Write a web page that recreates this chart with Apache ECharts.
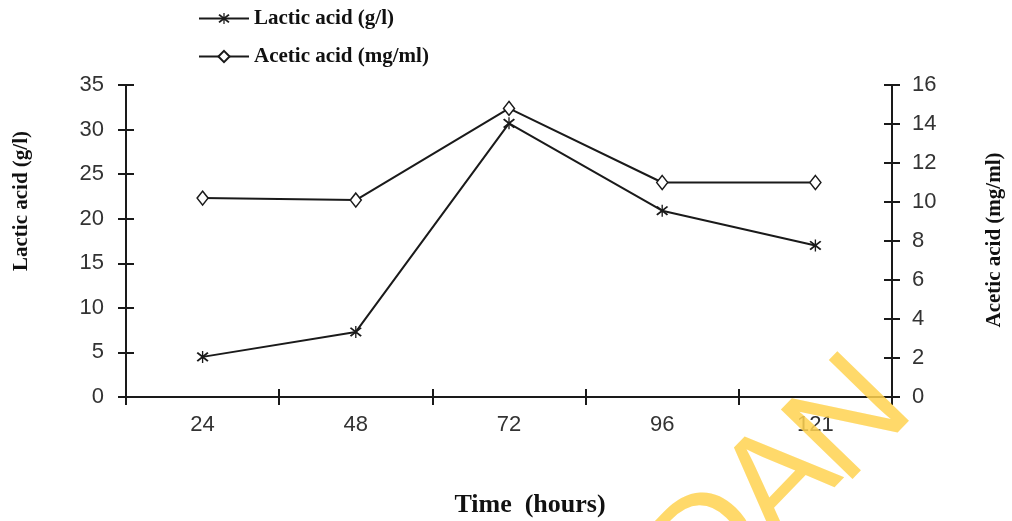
<!DOCTYPE html>
<html>
<head>
<meta charset="utf-8">
<script src="https://cdn.jsdelivr.net/npm/echarts@6/dist/echarts.min.js"></script>
<style>
html,body{margin:0;padding:0;background:#fff;}
#c{width:1012px;height:521px;}
</style>
</head>
<body>
<div id="c"></div>
<script>
// ---- data ----
const categories = ['24', '48', '72', '96', '121'];
const lacticAcid = [4.5, 7.3, 30.7, 20.9, 17.0];   // g/l (left axis)
const aceticAcid = [10.2, 10.1, 14.8, 11.0, 11.0]; // mg/ml (right axis)
const seriesNames = ['Lactic acid (g/l)', 'Acetic acid (mg/ml)'];
const leftTicks = {min: 0, max: 35, interval: 5};
const rightTicks = {min: 0, max: 16, interval: 2};

const SERIF = '"Liberation Serif", "DejaVu Serif", serif';
const SANS = '"Liberation Sans", Arial, sans-serif';
const INK = '#1a1a1a';
const asterisk = 'path://M9,0L11,0L11,20L9,20Z M1,4L3,2L19,16L17,18Z M17,2L19,4L3,18L1,16Z';

const chart = echarts.init(document.getElementById('c'), null, {renderer: 'canvas'});

const axisLine = {show: true, lineStyle: {color: INK, width: 2}};
const tickOut = {show: true, inside: false, length: 8, lineStyle: {color: INK, width: 2}};
const tickIn = {show: true, inside: true, length: 8, lineStyle: {color: INK, width: 2}};
const labelStyle = {color: '#333', fontFamily: SANS, fontSize: 22};

// watermark letters (decorative)
const wmLetters = [
  {ch: 'D', x: 712, y: 548},
  {ch: 'A', x: 782, y: 484},
  {ch: 'N', x: 852, y: 422}
];
const wmGraphics = wmLetters.map(function (l) {
  return {type: 'text', x: l.x, y: l.y, rotation: 0.8, silent: true, z: 100,
    style: {x: 0, y: 0, text: l.ch, align: 'center', verticalAlign: 'middle',
      font: '145px ' + SANS, fill: 'rgba(255,210,80,0.85)'}};
});

chart.setOption({
  animation: false,
  backgroundColor: '#fff',
  grid: {left: 126, right: 120, top: 85, bottom: 124, containLabel: false},
  legend: {
    orient: 'vertical', left: 198, top: 8, padding: 0,
    itemWidth: 50, itemHeight: 14, itemGap: 17,
    textStyle: {fontFamily: SERIF, fontWeight: 'bold', fontSize: 21, color: '#111'},
    data: seriesNames
  },
  xAxis: [
    {type: 'category', data: categories, boundaryGap: true, position: 'bottom',
     axisLine: axisLine, axisTick: tickOut,
     axisLabel: Object.assign({margin: 17}, labelStyle), splitLine: {show: false}},
    {type: 'category', data: categories, boundaryGap: true, position: 'bottom',
     axisLine: {show: false}, axisTick: tickIn, axisLabel: {show: false}, splitLine: {show: false}}
  ],
  yAxis: [
    Object.assign({type: 'value', position: 'left', axisLine: axisLine, axisTick: tickOut,
     axisLabel: Object.assign({margin: 22}, labelStyle), splitLine: {show: false}}, leftTicks),
    Object.assign({type: 'value', position: 'right', axisLine: axisLine, axisTick: tickOut,
     axisLabel: Object.assign({margin: 20}, labelStyle), splitLine: {show: false}}, rightTicks),
    Object.assign({type: 'value', position: 'left', axisLine: {show: false}, axisTick: tickIn,
     axisLabel: {show: false}, splitLine: {show: false}}, leftTicks),
    Object.assign({type: 'value', position: 'right', axisLine: {show: false}, axisTick: tickIn,
     axisLabel: {show: false}, splitLine: {show: false}}, rightTicks)
  ],
  series: [
    {name: seriesNames[0], type: 'line', data: lacticAcid, yAxisIndex: 0,
     symbol: asterisk, symbolSize: 12, showAllSymbol: true,
     lineStyle: {color: INK, width: 2}, itemStyle: {color: INK, borderColor: INK, borderWidth: 0}, z: 3},
    {name: seriesNames[1], type: 'line', data: aceticAcid, yAxisIndex: 1,
     symbol: 'diamond', symbolSize: [11, 14], showAllSymbol: true,
     lineStyle: {color: INK, width: 2}, itemStyle: {color: '#fff', borderColor: INK, borderWidth: 1.5}, z: 3}
  ],
  graphic: [
    {type: 'text', x: 530, y: 505, silent: true,
     style: {x: 0, y: 0, text: 'Time  (hours)', align: 'center', verticalAlign: 'middle',
       font: 'bold 26px ' + SERIF, fill: '#111'}},
    {type: 'text', x: 22, y: 201, rotation: Math.PI / 2, silent: true,
     style: {x: 0, y: 0, text: 'Lactic acid (g/l)', align: 'center', verticalAlign: 'middle',
       font: 'bold 21px ' + SERIF, fill: '#111'}},
    {type: 'text', x: 995, y: 240, rotation: Math.PI / 2, silent: true,
     style: {x: 0, y: 0, text: 'Acetic acid (mg/ml)', align: 'center', verticalAlign: 'middle',
       font: 'bold 21px ' + SERIF, fill: '#111'}}
  ].concat(wmGraphics)
});
</script>
</body>
</html>
